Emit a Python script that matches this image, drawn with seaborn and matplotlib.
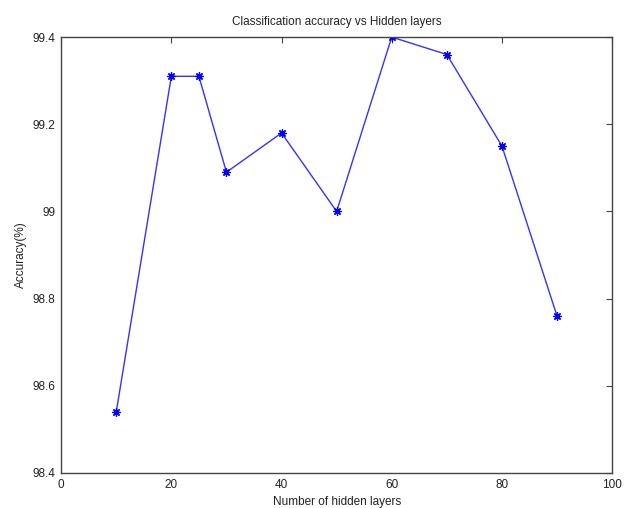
import numpy as np
import pandas as pd
import matplotlib
matplotlib.use("Agg")
import matplotlib.pyplot as plt
import seaborn as sns

# ── Data ──────────────────────────────────────────────────────────────────────
hidden_layers = [10, 20, 25, 30, 40, 50, 60, 70, 80, 90]
accuracy = [98.54, 99.31, 99.31, 99.09, 99.18, 99.00, 99.40, 99.36, 99.15, 98.76]
x_ticks = [0, 20, 40, 60, 80, 100]
y_ticks = [98.4, 98.6, 98.8, 99.0, 99.2, 99.4]
y_tick_labels = ['98.4', '98.6', '98.8', '99', '99.2', '99.4']

df = pd.DataFrame({'layers': hidden_layers, 'acc': accuracy})

sns.set_style("white")
plt.rcParams['font.family'] = ['Liberation Sans', 'DejaVu Sans']

fig = plt.figure(figsize=(6.24, 5.08), dpi=100)
ax = fig.add_axes([0.098, 0.069, 0.883, 0.858])

sns.lineplot(data=df, x='layers', y='acc', ax=ax, color='#3333ff',
             linewidth=1.0, marker=(8, 2, 0), markersize=6,
             markeredgecolor='#0000ff', markeredgewidth=0.9)

ax.set_xlim(0, 100)
ax.set_ylim(98.4, 99.4)
ax.set_xticks(x_ticks)
ax.set_yticks(y_ticks)
ax.set_yticklabels(y_tick_labels)
ax.tick_params(direction='in', length=4, width=0.8, color='#444444',
               top=True, right=True, labelsize=8.5, labelcolor='#222222', pad=4)
for s in ax.spines.values():
    s.set_color('#444444'); s.set_linewidth(1.0)

ax.set_title('Classification accuracy vs Hidden layers', fontsize=8.5, color='#222222', pad=9)
ax.set_xlabel('Number of hidden layers', fontsize=8.5, color='#222222', labelpad=4)
ax.set_ylabel('Accuracy(%)', fontsize=8.5, color='#222222', labelpad=4)

plt.savefig('out.png', dpi=100)
plt.close()
